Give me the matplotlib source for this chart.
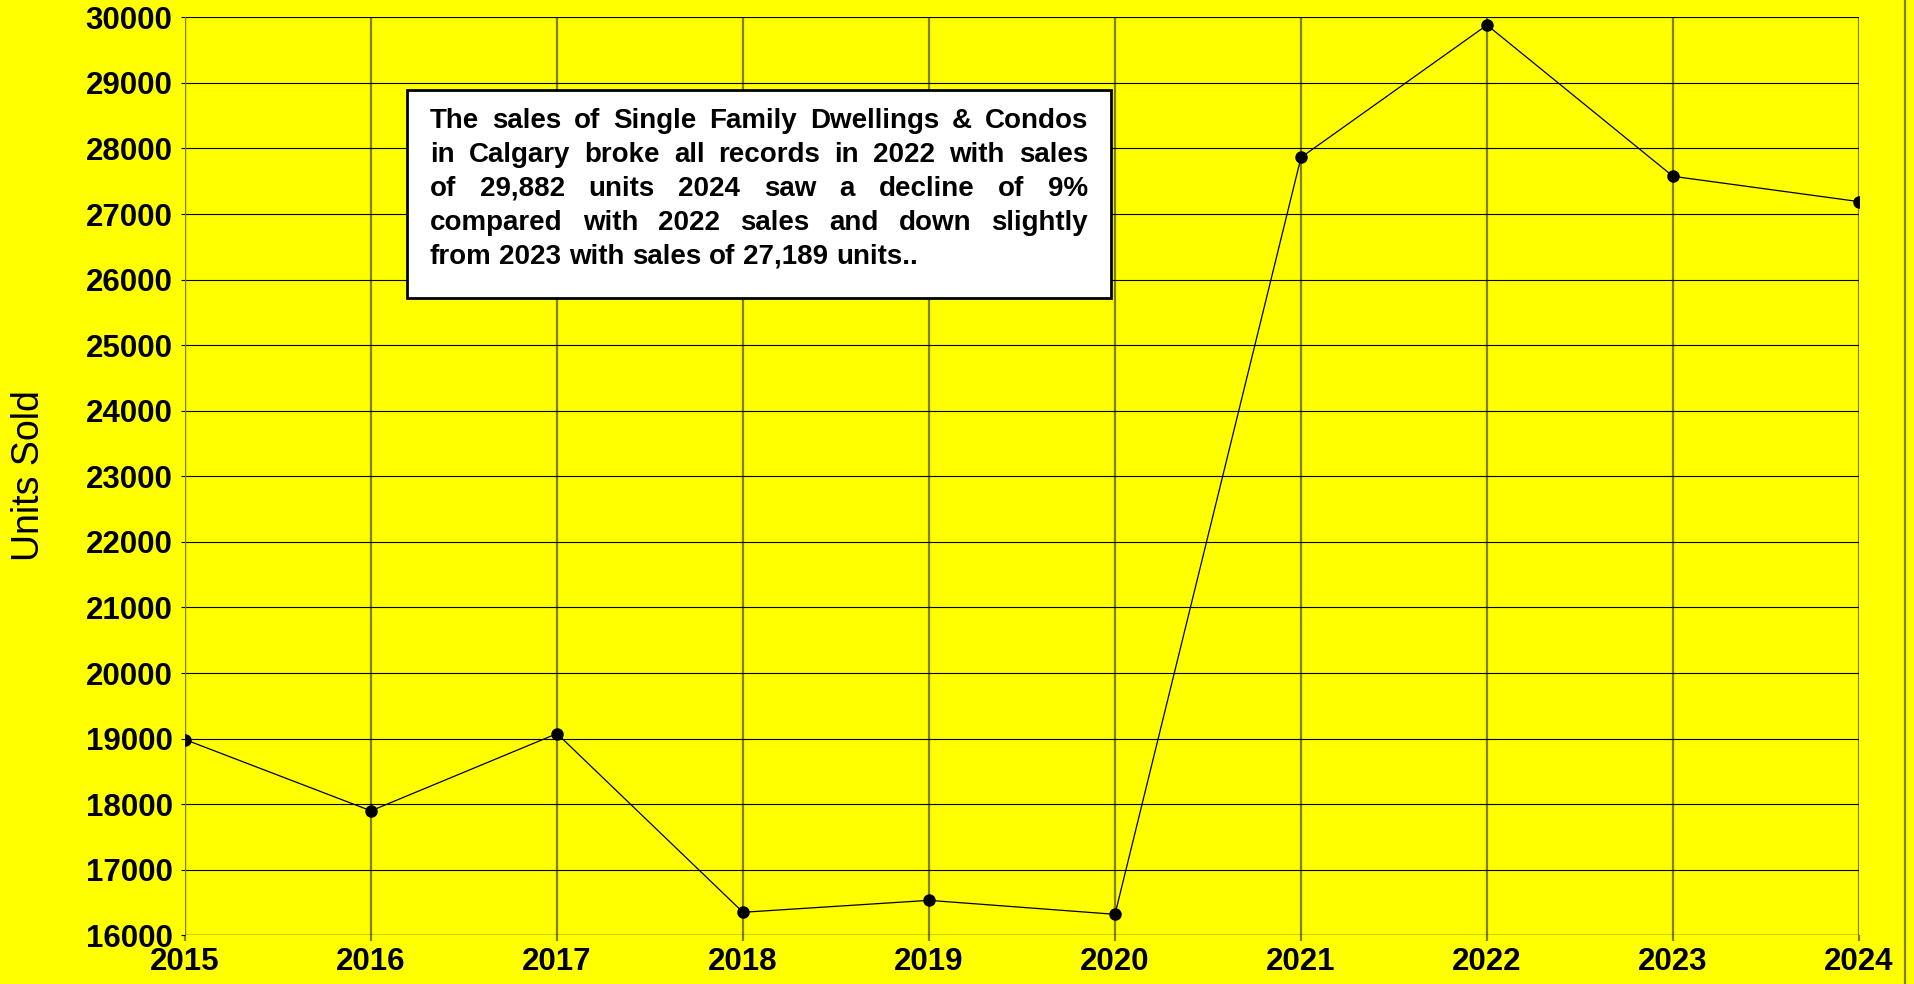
import matplotlib
matplotlib.use("Agg")
import matplotlib.pyplot as plt
from matplotlib.patches import Rectangle
from matplotlib.lines import Line2D

# data
years = [2015, 2016, 2017, 2018, 2019, 2020, 2021, 2022, 2023, 2024]
units_sold = [18985, 17898, 19076, 16351, 16533, 16320, 27863, 29882, 27575, 27189]
y_ticks = list(range(16000, 30001, 1000))

note_lines = [
    "The sales of Single Family Dwellings & Condos",
    "in Calgary broke all records in 2022 with sales",
    "of 29,882 units 2024 saw a decline of 9%",
    "compared with 2022 sales and down slightly",
    "from 2023 with sales of 27,189 units..",
]

YELLOW = "#ffff00"
OLIVE = "#808000"
W, H = 1914, 984

plt.rcParams['font.family'] = ['Liberation Sans', 'DejaVu Sans']

fig = plt.figure(figsize=(W / 100, H / 100), dpi=100, facecolor=YELLOW)
ax = fig.add_axes([185 / W, 1 - 935.3 / H, (1859 - 185) / W, (935.3 - 17.3) / H])
ax.set_facecolor(YELLOW)

ax.plot(years, units_sold, color="black", linewidth=0.9, marker="o",
        markersize=8, markerfacecolor="black", markeredgecolor="black", zorder=5)

ax.set_xlim(years[0], years[-1])
ax.set_ylim(y_ticks[0], y_ticks[-1])
ax.set_xticks(years)
ax.set_yticks(y_ticks)
ax.set_xticklabels([str(y) for y in years], fontsize=22.5, fontweight="bold")
ax.set_yticklabels([str(v) for v in y_ticks], fontsize=22.5, fontweight="bold")

# gridlines: vertical olive, horizontal thin black
ax.grid(axis="x", color=OLIVE, linewidth=1.6, zorder=1)
ax.grid(axis="y", color="black", linewidth=0.8, zorder=1)
ax.set_axisbelow(True)
for side in ["top", "right", "bottom", "left"]:
    ax.spines[side].set_visible(False)
ax.axhline(y_ticks[0], color="black", linewidth=0.9, zorder=2)
ax.axvline(years[0], color=OLIVE, linewidth=1.6, zorder=2)

ax.tick_params(axis="y", length=3, width=0.8, color="black", pad=6)
ax.tick_params(axis="x", length=4.5, width=1.6, color=OLIVE, pad=4)

fig.text(29 / W, 1 - 476 / H, "Units Sold", rotation=90, fontsize=27,
         ha="center", va="center")

# right-hand border line of the picture
fig.add_artist(Line2D([1905 / W, 1905 / W], [0, 1], color=OLIVE, linewidth=1.6))

# annotation box
bx0, by0, bx1, by1 = 407, 90, 1110.5, 298.3
fig.add_artist(Rectangle((bx0 / W, 1 - by1 / H), (bx1 - bx0) / W, (by1 - by0) / H,
                         facecolor="white", edgecolor="black", linewidth=2,
                         transform=fig.transFigure, zorder=10))

# justified text inside the box (baselines in pixels from top)
tx0, tx1 = 430, 1088
baselines = [127.7, 161.7, 195.7, 229.7, 263.7]
fsize = 20
renderer = fig.canvas.get_renderer()


def word_width(word):
    t = fig.text(0, 0, word, fontsize=fsize, fontweight="bold")
    w = t.get_window_extent(renderer).width
    t.remove()
    return w


# shrink font until widest line fits
while True:
    widest = max(word_width(ln) for ln in note_lines)
    if widest <= tx1 - tx0:
        break
    fsize -= 0.1

for i, ln in enumerate(note_lines):
    words = ln.split(" ")
    widths = [word_width(w) for w in words]
    if i < len(note_lines) - 1 and len(words) > 1:
        gap = (tx1 - tx0 - sum(widths)) / (len(words) - 1)
    else:
        gap = word_width("a b") - word_width("a") - word_width("b")
    x = tx0
    for w, wd in zip(words, widths):
        fig.text(x / W, 1 - baselines[i] / H, w, fontsize=fsize, fontweight="bold",
                 ha="left", va="baseline", zorder=11)
        x += wd + gap

fig.savefig("out.png", dpi=100, facecolor=YELLOW)
